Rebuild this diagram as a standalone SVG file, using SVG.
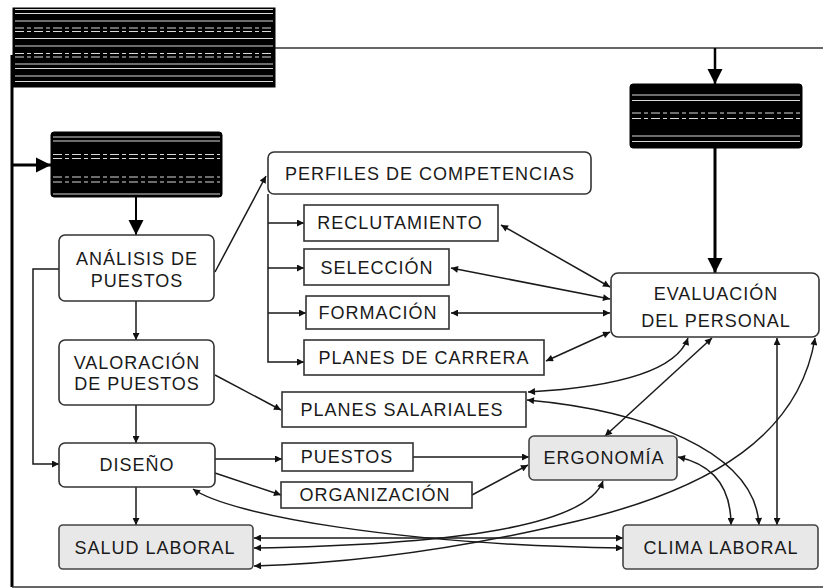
<svg xmlns="http://www.w3.org/2000/svg" width="823" height="588" viewBox="0 0 823 588">
<style>
.bx{fill:#fff;stroke:#333;stroke-width:1.6}
.gr{fill:#e8e8e8;stroke:#444;stroke-width:1.6}
.blk{fill:#000;stroke:#000}
.st{stroke:#fff;stroke-width:1;opacity:0.85}
.ds{stroke:#fff;stroke-width:1;stroke-dasharray:9 3 4 3;opacity:0.85}
.t{font-family:"Liberation Sans",Arial,sans-serif;font-size:18px;fill:#1a1a1a;letter-spacing:1px;text-anchor:middle}
.ce{fill:none;stroke:#1a1a1a;stroke-width:1.5;marker-end:url(#a)}
.cb{fill:none;stroke:#1a1a1a;stroke-width:1.5;marker-end:url(#a);marker-start:url(#a)}
.th{fill:none;stroke:#000;stroke-width:3}
.thb{fill:none;stroke:#000;stroke-width:3;marker-end:url(#b)}
</style>
<defs>
<marker id="a" viewBox="0 0 10 10" refX="10" refY="5" markerWidth="8" markerHeight="7" markerUnits="userSpaceOnUse" orient="auto-start-reverse"><path d="M0,0 L10,5 L0,10 z" fill="#111"/></marker>
<marker id="b" viewBox="0 0 10 10" refX="10" refY="5" markerWidth="15" markerHeight="16" markerUnits="userSpaceOnUse" orient="auto"><path d="M0,0 L10,5 L0,10 z" fill="#000"/></marker>
</defs>
<rect width="823" height="588" fill="#fff"/>
<g id="connectors">
<path d="M275,48 H823" style="fill:none;stroke:#333;stroke-width:1.5"/>
<path d="M715,48 V84" class="thb" style="stroke-width:2.5"/>
<path d="M12,55 V587" class="th"/>
<path d="M12,587 H823" style="fill:none;stroke:#333;stroke-width:1.5"/>
<path d="M12,165 H51" class="thb"/>
<path d="M136,197 V235" class="thb" style="stroke-width:2"/>
<path d="M715,148 V273" class="thb"/>
<path d="M215,272 L266,176" class="ce"/>
<path d="M268,194 V362 H304" class="ce"/>
<path d="M268,223 H304" class="ce"/>
<path d="M268,268 H304" class="ce"/>
<path d="M268,313 H306" class="ce"/>
<path d="M136,301 V340" class="ce"/>
<path d="M136,405 V443" class="ce"/>
<path d="M136,487 V525" class="ce"/>
<path d="M59,269 H33 V464 H59" class="ce"/>
<path d="M215,375 L281,410" class="ce"/>
<path d="M215,459 H282" class="ce"/>
<path d="M215,473 L281,495" class="ce"/>
<path d="M413,457 H529" class="ce"/>
<path d="M472,495 L528,465" class="ce"/>
<path d="M501,225 L610,287" class="cb"/>
<path d="M451,268 L610,299" class="cb"/>
<path d="M451,313 H610" class="cb"/>
<path d="M546,361 L610,332" class="cb"/>
<path d="M528,392 C600,388 675,375 688,338" class="cb"/>
<path d="M712,338 L605,436" class="cb"/>
<path d="M777,338 V525" class="cb"/>
<path d="M815,338 C800,430 720,490 560,525 C460,548 360,563 254,566" class="cb"/>
<path d="M193,489 C230,515 400,545 623,548" class="cb"/>
<path d="M254,538 H623" class="cb"/>
<path d="M254,548 C430,545 585,530 603,481" class="cb"/>
<path d="M678,457 C715,465 731,490 731,525" class="cb"/>
<path d="M527,400 C640,410 755,450 759,525" class="cb"/>
</g>
<g id="estrategia">
<rect x="13" y="8" width="262" height="79" class="blk"/>
<path d="M15,9.5 H273 M15,13.5 H273 M15,21 H273 M15,38.5 H273 M15,46 H273 M15,64 H273 M15,68.5 H273 M15,76 H273 M15,81.5 H273" class="st"/>
<path d="M15,28 H273 M15,31.5 H273 M15,53.5 H273 M15,57 H273" class="ds"/>
</g>
<g id="gestion">
<rect x="51" y="132" width="171" height="65" rx="3" class="blk"/>
<path d="M53,137 H220 M53,141 H220 M53,194 H220" class="st"/>
<path d="M53,154.5 H220 M53,158.5 H220 M53,177 H220 M53,182 H220" class="ds"/>
</g>
<g id="objetivos">
<rect x="630" y="84" width="172" height="64" rx="3" class="blk"/>
<path d="M632,95 H800 M632,100.5 H800 M632,136 H800 M632,141.5 H800" class="st"/>
<path d="M632,113 H800 M632,118.5 H800" class="ds"/>
</g>
<g id="analisis">
<rect x="59" y="235" width="155" height="66" rx="6" class="bx"/>
<text class="t" x="137" y="265">ANÁLISIS DE</text>
<text class="t" x="137" y="287">PUESTOS</text>
</g>
<g id="valoracion">
<rect x="59" y="340" width="155" height="65" rx="6" class="bx"/>
<text class="t" x="137" y="369">VALORACIÓN</text>
<text class="t" x="137" y="390">DE PUESTOS</text>
</g>
<g id="diseno">
<rect x="59" y="443" width="156" height="44" rx="6" class="bx"/>
<text class="t" x="137" y="471">DISEÑO</text>
</g>
<g id="salud">
<rect x="59" y="525" width="194" height="44" rx="4" class="gr"/>
<text class="t" x="155" y="554">SALUD LABORAL</text>
</g>
<g id="perfiles">
<rect x="268" y="152" width="323" height="42" rx="6" class="bx"/>
<text class="t" x="430" y="180">PERFILES DE COMPETENCIAS</text>
</g>
<g id="reclutamiento">
<rect x="304" y="205" width="194" height="36" class="bx"/>
<text class="t" x="400" y="229">RECLUTAMIENTO</text>
</g>
<g id="seleccion">
<rect x="304" y="249" width="145" height="36" class="bx"/>
<text class="t" x="377" y="274">SELECCIÓN</text>
</g>
<g id="formacion">
<rect x="306" y="296" width="143" height="33" class="bx"/>
<text class="t" x="378" y="319">FORMACIÓN</text>
</g>
<g id="carrera">
<rect x="304" y="340" width="240" height="35" class="bx"/>
<text class="t" x="424" y="364">PLANES DE CARRERA</text>
</g>
<g id="salariales">
<rect x="282" y="392" width="244" height="35" class="bx"/>
<text class="t" x="402" y="416">PLANES SALARIALES</text>
</g>
<g id="puestos">
<rect x="282" y="443" width="131" height="28" class="bx"/>
<text class="t" x="347" y="463">PUESTOS</text>
</g>
<g id="organizacion">
<rect x="281" y="482" width="191" height="26" class="bx"/>
<text class="t" x="375" y="501">ORGANIZACIÓN</text>
</g>
<g id="ergonomia">
<rect x="529" y="436" width="148" height="44" rx="5" class="gr"/>
<text class="t" x="604" y="464">ERGONOMÍA</text>
</g>
<g id="evaluacion">
<rect x="611" y="273" width="208" height="64" rx="7" class="bx"/>
<text class="t" x="716" y="300">EVALUACIÓN</text>
<text class="t" x="716" y="327">DEL PERSONAL</text>
</g>
<g id="clima">
<rect x="623" y="525" width="195" height="44" rx="4" class="gr"/>
<text class="t" x="721" y="554">CLIMA LABORAL</text>
</g>
</svg>
